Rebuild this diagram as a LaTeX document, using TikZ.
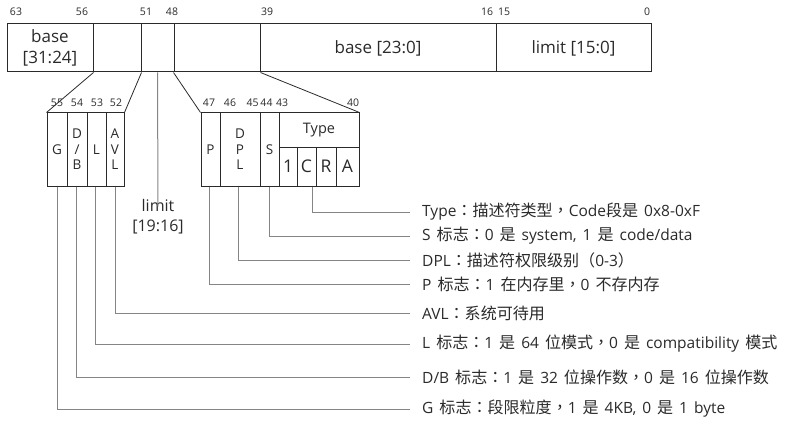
\documentclass[tikz,border=0pt]{standalone}
\usepackage{fontspec}
\setmainfont{Open Sans}
\newfontfamily\zh[Scale=1.035]{Noto Sans CJK SC}
\newfontfamily\zhpunct[Scale=1.035]{Noto Sans CJK TC}
\newcommand\zcolon{{\zhpunct ：}}
\newcommand\zcomma{{\zhpunct ，}}
\newcommand\notefont{\fontsize{15.5}{16}\selectfont\spaceskip=6pt\relax}
\usetikzlibrary{positioning}
\definecolor{ink}{HTML}{2A2A2A}
\definecolor{wire}{HTML}{858585}
\tikzset{
	fld/.style={draw=ink, line width=1pt, inner sep=0pt, align=center, text=ink},
	bitno/.style={font=\fontsize{10.5}{10}\selectfont, text=ink, inner sep=0pt},
	note/.style={anchor=west, font=\notefont, text=ink, inner sep=0pt},
	lead/.style={draw=wire, line width=1pt},
	slant/.style={draw=ink, line width=0.8pt},
}

\begin{document}
\begin{tikzpicture}[x=1pt, y=-1pt]
		\useasboundingbox (0,0) rectangle (800,425);
		% descriptor, top row
		\node[fld, minimum width=86, minimum height=48, font=\fontsize{17}{21}\selectfont] (bhi) at (50,48) {base\\{}[31:24]}; \node[fld, minimum width=48, minimum height=48] (f56) at (117,48) {}; \node[fld, minimum width=33, minimum height=48] (lim) at (157.5,48) {}; \node[fld, minimum width=86, minimum height=48] (f48) at (217,48) {}; \node[fld, minimum width=236, minimum height=48, font=\fontsize{17}{21}\selectfont] (blo) at (378,48) {base [23:0]}; \node[fld, minimum width=155, minimum height=48, font=\fontsize{17}{21}\selectfont] (llo) at (573.5,48) {limit [15:0]};
		\node[bitno] (n63) at (16,12) {63}; \node[bitno] (n56) at (82,12) {56}; \node[bitno] (n51) at (146,12) {51}; \node[bitno] (n48) at (172,12) {48}; \node[bitno] (n39) at (267,12) {39}; \node[bitno] (n16) at (487,12) {16}; \node[bitno] (n15) at (504,12) {15}; \node[bitno] (n0) at (647,12) {0};
		
		% flags 55..52
		\node[fld, minimum width=20, minimum height=73, font=\fontsize{13.5}{15}\selectfont] (g) at (57,149.5) {G}; \node[fld, minimum width=20, minimum height=73, font=\fontsize{13.5}{15.5}\selectfont] (db) at (77,149.5) {D\\/\\B}; \node[fld, minimum width=19, minimum height=73, font=\fontsize{13.5}{15}\selectfont] (l) at (96.5,149.5) {L}; \node[fld, minimum width=18, minimum height=73, font=\fontsize{13.5}{15.5}\selectfont] (avl) at (115,149.5) {A\\V\\L};
		\node[bitno] (n55) at (57,103) {55}; \node[bitno] (n54) at (77,103) {54}; \node[bitno] (n53) at (97,103) {53}; \node[bitno] (n52) at (116,103) {52};
		
		% flags 47..40
		\node[fld, minimum width=19, minimum height=73, font=\fontsize{13.5}{15}\selectfont] (p) at (210.5,149.5) {P}; \node[fld, minimum width=40, minimum height=73, font=\fontsize{13.5}{15.5}\selectfont] (dpl) at (240,149.5) {D\\P\\L}; \node[fld, minimum width=19, minimum height=73, font=\fontsize{13.5}{15}\selectfont] (s) at (269.5,149.5) {S};
		\node[fld, minimum width=80, minimum height=34, font=\fontsize{14.5}{15}\selectfont] (type) at (319,130) {Type}; \node[fld, minimum width=18, minimum height=39, font=\fontsize{17.5}{18}\selectfont] (t1) at (288,166.5) {1}; \node[fld, minimum width=19, minimum height=39, font=\fontsize{17.5}{18}\selectfont] (tc) at (306.5,166.5) {C}; \node[fld, minimum width=20, minimum height=39, font=\fontsize{17.5}{18}\selectfont] (tr) at (326,166.5) {R}; \node[fld, minimum width=23, minimum height=39, font=\fontsize{17.5}{18}\selectfont] (ta) at (347.5,166.5) {A};
		\node[bitno] (n47) at (209,103) {47}; \node[bitno] (n46) at (230,103) {46}; \node[bitno] (n45) at (252.5,103) {45}; \node[bitno] (n44) at (266.5,103) {44}; \node[bitno] (n43) at (282,103) {43}; \node[bitno] (n40) at (353,103) {40};
		
		\draw[slant] (bhi.south east) -- (g.north west); \draw[slant] (f56.south east) -- (avl.north east); \draw[slant] (f48.south west) -- (p.north west); \draw[slant] (f48.south east) -- (type.north east);
		\node[font=\fontsize{16}{20}\selectfont, text=ink, align=center, inner sep=0pt] (limtxt) at (158,217) {limit\\{}[19:16]}; \draw[lead] (lim.south) -- ([yshift=-7]limtxt.north);
		
		% notes
		\node[note] (ntype) at (422,212) {Type\zcolon{\zh 描述符类型}\zcomma Code{\zh 段是} 0x8-0xF}; \node[note] (ns) at (422,236) {S {\zh 标志}\zcolon 0 {\zh 是} system, 1 {\zh 是} code/data}; \node[note] (ndpl) at (422,260) {DPL\zcolon{\zh 描述符权限级别（}0-3{\zh ）}}; \node[note] (np) at (422,284) {P {\zh 标志}\zcolon 1 {\zh 在内存里}\zcomma 0 {\zh 不存内存}};
		\node[note] (navl) at (422,313) {AVL\zcolon{\zh 系统可待用}}; \node[note] (nl) at (422,344) {L {\zh 标志}\zcolon 1 {\zh 是} 64 {\zh 位模式}\zcomma 0 {\zh 是} compatibility {\zh 模式}}; \node[note] (ndb) at (422,377) {D/B {\zh 标志}\zcolon 1 {\zh 是} 32 {\zh 位操作数}\zcomma 0 {\zh 是} 16 {\zh 位操作数}}; \node[note] (ng) at (422,409) {G {\zh 标志}\zcolon{\zh 段限粒度}\zcomma 1 {\zh 是} 4KB, 0 {\zh 是} 1 byte};
		\draw[lead] ([xshift=6]tc.south) |- ([xshift=-12]ntype.west); \draw[lead] (s.south) |- ([xshift=-12]ns.west); \draw[lead] ([xshift=-2]dpl.south) |- ([xshift=-12]ndpl.west); \draw[lead] ([xshift=-1.5]p.south) |- ([xshift=-12]np.west);
		\draw[lead] (avl.south) |- ([xshift=-12]navl.west); \draw[lead] ([xshift=-1.5]l.south) |- ([xshift=-12]nl.west); \draw[lead] ([xshift=-1]db.south) |- ([xshift=-12]ndb.west); \draw[lead] (g.south) |- ([xshift=-12]ng.west);
	\end{tikzpicture}
\end{document}
